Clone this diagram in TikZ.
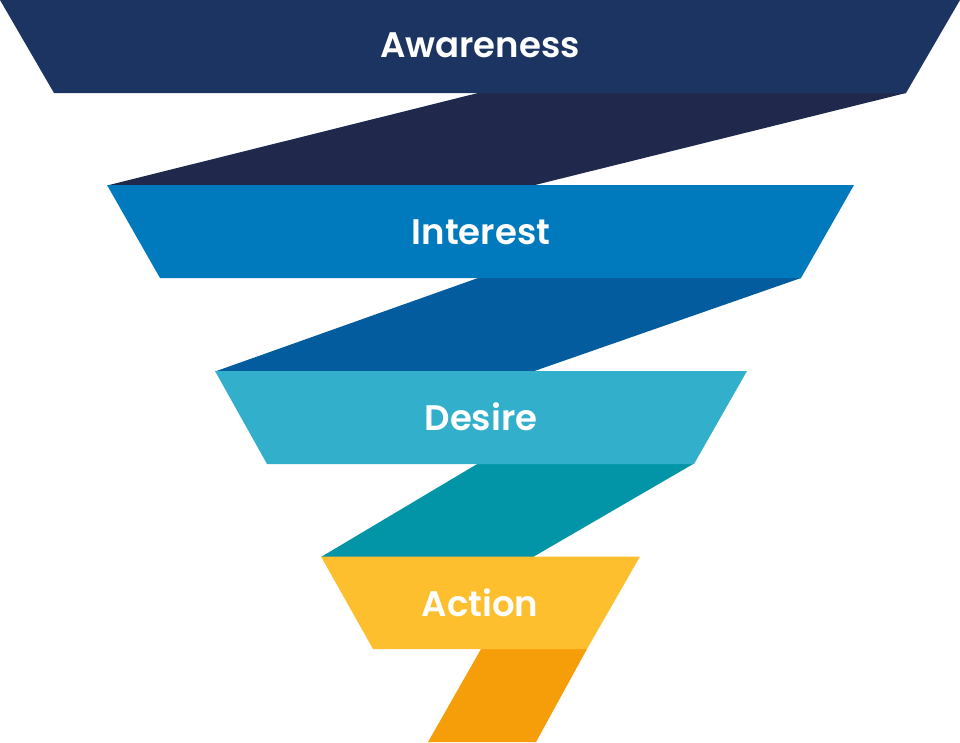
\documentclass[tikz,border=0pt]{standalone}
\usepackage{fontspec}
\setmainfont{Poppins}[BoldFont={Poppins SemiBold}]
\definecolor{cAware}{HTML}{1C3461}
\definecolor{cBandA}{HTML}{20294B}
\definecolor{cInter}{HTML}{007ABD}
\definecolor{cBandB}{HTML}{025C9D}
\definecolor{cDesire}{HTML}{31AFCB}
\definecolor{cBandC}{HTML}{0295A7}
\definecolor{cAction}{HTML}{FEBF2E}
\definecolor{cBandD}{HTML}{F69E0A}
\tikzset{
  stage/.style={fill=#1, draw=none},
  band/.style={fill=#1, draw=none},
  lbl/.style={text=white, font=\fontsize{35.5}{42}\selectfont\bfseries, inner sep=0pt, anchor=base}
}
\begin{document}
\begin{tikzpicture}[x=1pt,y=-1pt]
\useasboundingbox (0,0) rectangle (960,742);
% connecting bands
\fill[band=cBandA] (478,93) -- (906,93) -- (533,185.5) -- (107,185.5) -- cycle;
\fill[band=cBandB] (478,278) -- (801,278) -- (533,371.5) -- (215,371.5) -- cycle;
\fill[band=cBandC] (478,463.5) -- (694,463.5) -- (533,557) -- (321,557) -- cycle;
\fill[band=cBandD] (481,649) -- (587,649) -- (536,742) -- (428,742) -- cycle;
% stages
\fill[stage=cAware] (0,0) -- (960,0) -- (906,93) -- (54,93) -- cycle;
\fill[stage=cInter] (107,185) -- (854,185) -- (801,278) -- (160,278) -- cycle;
\fill[stage=cDesire] (215,371) -- (747,371) -- (694,464) -- (267,464) -- cycle;
\fill[stage=cAction] (321,556.5) -- (640,556.5) -- (587,649) -- (373,649) -- cycle;
% labels
\node[lbl] (aware) at (480,57) {Awareness};
\node[lbl] (inter) at (481,244) {Interest};
\node[lbl] (desire) at (481,430) {Desire};
\node[lbl] (action) at (480,616) {Action};
\end{tikzpicture}
\end{document}
